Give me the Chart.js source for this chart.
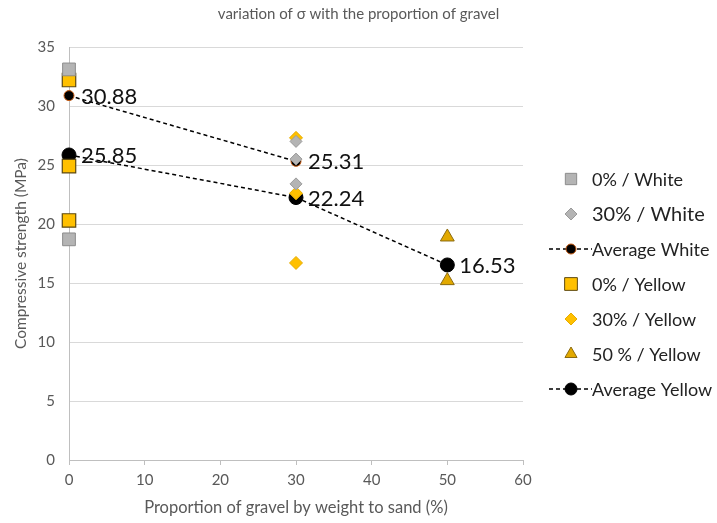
<!DOCTYPE html>
<html>
<head>
<meta charset="utf-8">
<script src="https://cdn.jsdelivr.net/npm/chart.js@4.4.1/dist/chart.umd.min.js"></script>
<style>
  body { margin: 0; background: #fff; }
  canvas { display: block; }
</style>
</head>
<body>
<canvas id="chart" width="717" height="523"></canvas>
<script>
// values
const white0X = [0, 0];
const white0 = [33.1, 18.7];
const white30X = [30, 30, 30];
const white30 = [27.0, 25.5, 23.4];
const avgWhiteX = [0, 30];
const avgWhite = [30.88, 25.31];
const yellow0X = [0, 0, 0];
const yellow0 = [32.2, 24.9, 20.3];
const yellow30X = [30, 30, 30];
const yellow30 = [27.3, 22.6, 16.7];
const yellow50X = [50, 50];
const yellow50 = [18.9, 15.2];
const avgYellowX = [0, 30, 50];
const avgYellow = [25.85, 22.24, 16.53];

const xTicks = [0, 10, 20, 30, 40, 50, 60];
const yTicks = [0, 5, 10, 15, 20, 25, 30, 35];

const FONT = 'Lato, "Open Sans", sans-serif';

function pts(xs, ys) {
  return ys.map((y, i) => ({ x: xs[i], y: y }));
}

// draws the value next to each point of the average series
const valueLabels = {
  id: 'valueLabels',
  afterDatasetsDraw(chart) {
    const ctx = chart.ctx;
    ctx.save();
    ctx.font = '22px ' + FONT;
    ctx.fillStyle = '#111';
    ctx.textBaseline = 'middle';
    chart.data.datasets.forEach((ds, di) => {
      if (!ds.showValues) return;
      chart.getDatasetMeta(di).data.forEach((pt, i) => {
        ctx.fillText(ds.data[i].y.toFixed(2), pt.x + 12, pt.y + 1);
      });
    });
    ctx.restore();
  }
};

// legend on the right, like the spreadsheet one
const sideLegend = {
  id: 'sideLegend',
  afterDraw(chart) {
    const ctx = chart.ctx;
    const x0 = 571, textX = 592;
    let y = 179;
    ctx.save();
    chart.data.datasets.forEach((ds) => {
      if (ds.showLine) {
        ctx.strokeStyle = ds.borderColor;
        ctx.lineWidth = 1.5;
        ctx.setLineDash([4, 3]);
        ctx.beginPath();
        ctx.moveTo(x0 - 22, y);
        ctx.lineTo(x0 + 21, y);
        ctx.stroke();
        ctx.setLineDash([]);
      }
      ctx.fillStyle = ds.pointBackgroundColor;
      ctx.strokeStyle = ds.pointBorderColor;
      ctx.lineWidth = 1;
      Chart.helpers.drawPoint(ctx, {
        pointStyle: ds.pointStyle,
        radius: ds.legendRadius,
        borderWidth: 1
      }, x0, y);
      ctx.font = (ds.legendFont || 18) + 'px ' + FONT;
      ctx.fillStyle = '#222';
      ctx.textBaseline = 'middle';
      ctx.fillText(ds.label, textX, y + 1);
      y += 35;
    });
    ctx.restore();
  }
};

new Chart(document.getElementById('chart'), {
  type: 'scatter',
  data: {
    datasets: [
      {
        label: '0% / White',
        data: pts(white0X, white0),
        pointStyle: 'rect',
        pointRadius: 9,
        legendRadius: 8,
        pointBackgroundColor: '#b4b4b4',
        pointBorderColor: '#8c8c8c',
        pointBorderWidth: 1
      },
      {
        label: '30% / White',
        data: pts(white30X, white30),
        pointStyle: 'rectRot',
        pointRadius: 6,
        legendRadius: 6,
        legendFont: 20,
        pointBackgroundColor: '#b4b4b4',
        pointBorderColor: '#9a9a9a',
        pointBorderWidth: 1
      },
      {
        label: 'Average White',
        data: pts(avgWhiteX, avgWhite),
        showLine: true,
        showValues: true,
        borderColor: '#000',
        borderWidth: 1.5,
        borderDash: [4, 3],
        pointStyle: 'circle',
        pointRadius: 5,
        legendRadius: 5,
        pointBackgroundColor: '#000',
        pointBorderColor: '#c55a11',
        pointBorderWidth: 1
      },
      {
        label: '0% / Yellow',
        data: pts(yellow0X, yellow0),
        pointStyle: 'rect',
        pointRadius: 9.5,
        legendRadius: 9,
        pointBackgroundColor: '#ffc000',
        pointBorderColor: '#5e4a10',
        pointBorderWidth: 1.2
      },
      {
        label: '30% / Yellow',
        data: pts(yellow30X, yellow30),
        pointStyle: 'rectRot',
        pointRadius: 6.5,
        legendRadius: 6,
        pointBackgroundColor: '#ffc000',
        pointBorderColor: '#e6ac00',
        pointBorderWidth: 1
      },
      {
        label: '50 % / Yellow',
        data: pts(yellow50X, yellow50),
        pointStyle: 'triangle',
        pointRadius: 8,
        legendRadius: 7,
        pointBackgroundColor: '#e2a900',
        pointBorderColor: '#8a6a10',
        pointBorderWidth: 1
      },
      {
        label: 'Average Yellow',
        data: pts(avgYellowX, avgYellow),
        showLine: true,
        showValues: true,
        borderColor: '#000',
        borderWidth: 1.5,
        borderDash: [4, 3],
        pointStyle: 'circle',
        pointRadius: 7,
        legendRadius: 6,
        pointBackgroundColor: '#000',
        pointBorderColor: '#000',
        pointBorderWidth: 1
      }
    ]
  },
  options: {
    responsive: false,
    animation: false,
    clip: false,
    layout: { padding: 0 },
    plugins: {
      legend: { display: false },
      tooltip: { enabled: false },
      title: {
        display: true,
        text: 'variation of σ with the proportion of gravel',
        color: '#595959',
        font: { family: FONT, size: 15, weight: 'normal' },
        padding: { top: 5, bottom: 24 }
      }
    },
    scales: {
      x: {
        type: 'linear',
        min: 0,
        max: 60,
        afterBuildTicks: (s) => { s.ticks = xTicks.map(v => ({ value: v })); },
        afterFit: (s) => { s.height = 63; },
        grid: {
          drawOnChartArea: false,
          drawTicks: true,
          tickLength: 5,
          color: '#bfbfbf'
        },
        border: { color: '#bfbfbf', width: 1 },
        ticks: {
          color: '#595959',
          font: { family: FONT, size: 15 },
          padding: 6
        },
        title: {
          display: true,
          text: 'Proportion of gravel by weight to sand (%)',
          color: '#595959',
          font: { family: FONT, size: 16.5 },
          padding: { top: 0, bottom: 5 }
        }
      },
      y: {
        min: 0,
        max: 35,
        afterBuildTicks: (s) => { s.ticks = yTicks.map(v => ({ value: v })); },
        afterFit: (s) => { s.width = 69; },
        grid: {
          color: '#d9d9d9',
          drawTicks: false
        },
        border: { color: '#bfbfbf', width: 1 },
        ticks: {
          color: '#595959',
          font: { family: FONT, size: 15 },
          padding: 14
        },
        title: {
          display: true,
          text: 'Compressive strength (MPa)',
          color: '#595959',
          font: { family: FONT, size: 15.5 },
          padding: { top: 12, bottom: 0 }
        }
      },
      // empty right-hand axis that keeps room for the legend
      legendSpace: {
        position: 'right',
        display: true,
        afterFit: (s) => { s.width = 194; },
        grid: { display: false },
        border: { display: false },
        ticks: { display: false }
      }
    }
  },
  plugins: [valueLabels, sideLegend]
});
</script>
</body>
</html>
